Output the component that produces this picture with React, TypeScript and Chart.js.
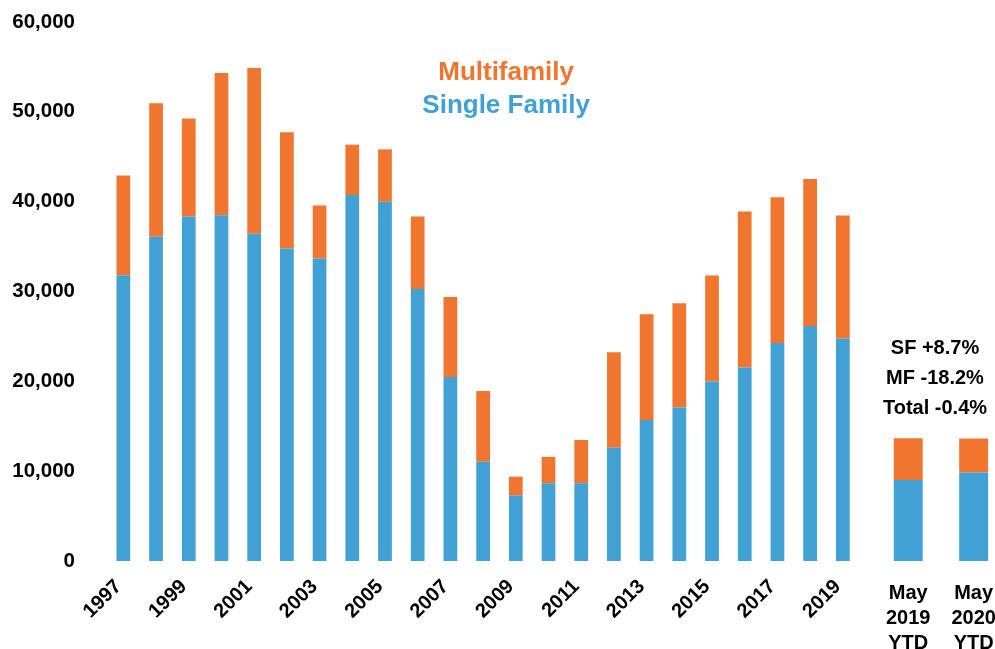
import React, { useEffect, useRef } from 'react';
import { Chart, registerables } from 'chart.js';

Chart.register(...registerables);

const years = [
  '1997', '1998', '1999', '2000', '2001', '2002', '2003', '2004', '2005', '2006', '2007', '2008',
  '2009', '2010', '2011', '2012', '2013', '2014', '2015', '2016', '2017', '2018', '2019',
];
const singleFamily = [
  31810, 36090, 38350, 38500, 36420, 34780, 33670, 40730, 39990, 30290, 20490, 11060,
  7280, 8650, 8650, 12620, 15700, 17080, 19970, 21550, 24270, 26170, 24780,
];
const multifamily = [
  11110, 14860, 10900, 15810, 18450, 12940, 5910, 5610, 5830, 8060, 8910, 7870,
  2110, 2940, 4820, 10620, 11770, 11620, 11800, 17350, 16230, 16340, 13680,
];
const ytdLabels = [
  ['May', '2019', 'YTD'],
  ['May', '2020', 'YTD'],
];
const ytdSingleFamily = [9020, 9850];
const ytdMultifamily = [4650, 3800];
const yTicks = [0, 10000, 20000, 30000, 40000, 50000, 60000];
const legendLabels = ['Multifamily', 'Single Family'];
const annotations = ['SF +8.7%', 'MF -18.2%', 'Total -0.4%'];

const ORANGE = '#F0752F';
const BLUE = '#41A1D5';
const FONT = '"Liberation Sans", Arial, sans-serif';

const App: React.FC = () => {
  const canvasRef = useRef<HTMLCanvasElement | null>(null);

  useEffect(() => {
    if (!canvasRef.current) return;
    const n = years.length;
    const labels: (string | string[])[] = [...years, '', ytdLabels[0], '', ytdLabels[1]];
    const pad = (arr: number[]) => [...arr, null, null, null, null];
    const ytd = (arr: number[]) => [...new Array(n).fill(null), null, arr[0], null, arr[1]];

    const overlay = {
      id: 'overlay',
      afterDraw(chart: any) {
        const { ctx, chartArea, scales } = chart;
        const xs = scales.x;
        ctx.save();
        ctx.textAlign = 'center';
        ctx.textBaseline = 'alphabetic';
        // YTD category labels
        ctx.font = `bold 20px ${FONT}`;
        ctx.fillStyle = '#000';
        ytdLabels.forEach((lines, i) => {
          const px = xs.getPixelForValue(n + 1 + i * 2);
          lines.forEach((t, j) => ctx.fillText(t, px, chartArea.bottom + 38 + j * 25));
        });
        // annotations
        const ax = chartArea.right - 55;
        annotations.forEach((t, j) => ctx.fillText(t, ax, chartArea.top + 332 + j * 30));
        // legend
        ctx.font = `bold 26px ${FONT}`;
        const lx = chartArea.left + 0.452 * (chartArea.right - chartArea.left);
        ctx.fillStyle = ORANGE;
        ctx.fillText(legendLabels[0], lx, chartArea.top + 58);
        ctx.fillStyle = BLUE;
        ctx.fillText(legendLabels[1], lx, chartArea.top + 91);
        ctx.restore();
      },
    };

    const chart = new Chart(canvasRef.current, {
      type: 'bar',
      data: {
        labels,
        datasets: [
          { label: legendLabels[1], data: pad(singleFamily), backgroundColor: BLUE, barPercentage: 0.42, categoryPercentage: 1 },
          { label: legendLabels[0], data: pad(multifamily), backgroundColor: ORANGE, barPercentage: 0.42, categoryPercentage: 1 },
          { label: legendLabels[1] + ' YTD', data: ytd(ytdSingleFamily), backgroundColor: BLUE, barPercentage: 0.885, categoryPercentage: 1 },
          { label: legendLabels[0] + ' YTD', data: ytd(ytdMultifamily), backgroundColor: ORANGE, barPercentage: 0.885, categoryPercentage: 1 },
        ] as any,
      },
      options: {
        responsive: false,
        animation: false,
        devicePixelRatio: 1,
        layout: { padding: { left: 0, right: 5, top: 22, bottom: 0 } },
        plugins: { legend: { display: false }, tooltip: { enabled: false } },
        scales: {
          x: {
            stacked: true,
            grid: { display: false, drawTicks: false },
            border: { display: false },
            ticks: {
              autoSkip: false,
              minRotation: 45,
              maxRotation: 45,
              padding: 14,
              labelOffset: -5,
              color: '#000',
              font: { family: FONT, size: 20, weight: 'bold' },
              callback: (_v: any, i: number) => (i < n && i % 2 === 0 ? years[i] : ''),
            },
            afterFit: (scale: any) => {
              scale.height = 88;
              scale.paddingLeft = 0;
              scale.paddingRight = 0;
            },
          },
          y: {
            stacked: true,
            min: yTicks[0],
            max: yTicks[yTicks.length - 1],
            grid: { display: false, drawTicks: false },
            border: { display: false },
            afterBuildTicks: (scale: any) => {
              scale.ticks = yTicks.map((v) => ({ value: v }));
            },
            ticks: {
              padding: 32,
              color: '#000',
              font: { family: FONT, size: 20.5, weight: 'bold' },
              callback: (v: any) => Number(v).toLocaleString('en-US'),
            },
            afterFit: (scale: any) => {
              scale.width = 107;
              scale.paddingTop = 0;
              scale.paddingBottom = 0;
            },
          },
        },
      } as any,
      plugins: [overlay],
    });
    return () => chart.destroy();
  }, []);

  return (
    <div style={{ position: 'fixed', left: 0, top: 0, width: 995, height: 649, background: '#fff' }}>
      <canvas ref={canvasRef} width={995} height={649} style={{ display: 'block', width: 995, height: 649 }} />
    </div>
  );
};

export default App;
